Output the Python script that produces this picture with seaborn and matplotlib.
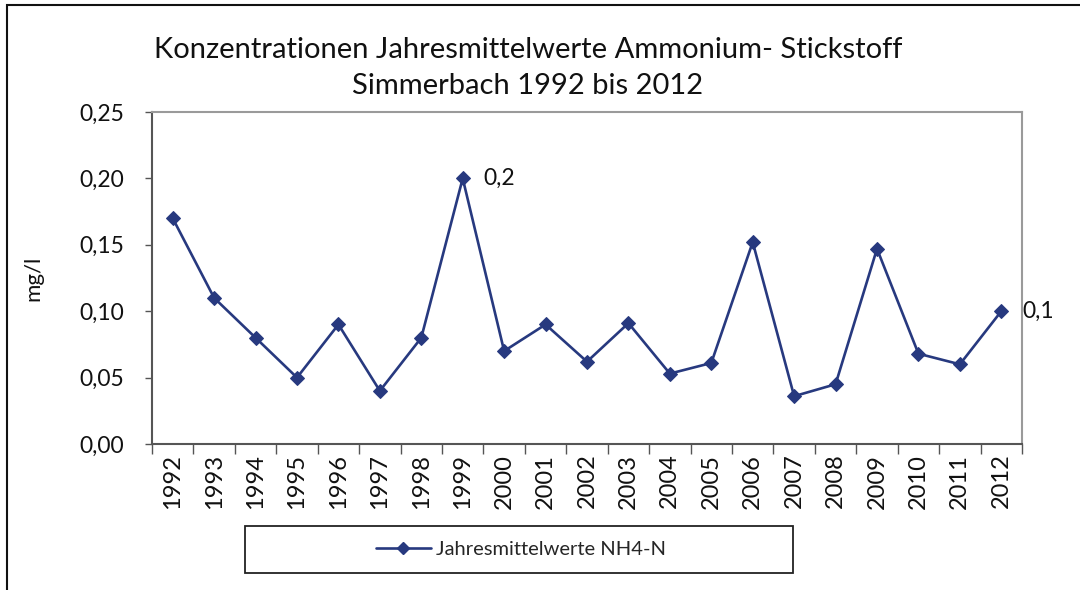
import matplotlib
matplotlib.use("Agg")
import matplotlib.pyplot as plt
import seaborn as sns
import pandas as pd
from matplotlib.patches import Rectangle
from matplotlib.lines import Line2D
from matplotlib.ticker import FixedLocator, FuncFormatter

years = [str(y) for y in range(1992, 2013)]
values = [0.170, 0.110, 0.080, 0.050, 0.090, 0.040, 0.080, 0.200, 0.070, 0.090,
          0.062, 0.091, 0.053, 0.061, 0.152, 0.036, 0.045, 0.147, 0.068, 0.060, 0.100]
series_name = "Jahresmittelwerte NH4-N"
title = "Konzentrationen Jahresmittelwerte Ammonium- Stickstoff\nSimmerbach 1992 bis 2012"
ylabel = "mg/l"
yticks = [0.00, 0.05, 0.10, 0.15, 0.20, 0.25]
labels = {7: "0,2", 20: "0,1"}

sns.set_theme(style="white")
plt.rcParams['font.family'] = ['Lato', 'DejaVu Sans']

color = "#27397F"
df = pd.DataFrame({"pos": range(len(years)), "value": values})

fig = plt.figure(figsize=(10.8, 5.9), dpi=100)
ax = fig.add_axes([152/1080, 1-444/590, (1022-152)/1080, (444-112)/590])

sns.lineplot(data=df, x="pos", y="value", ax=ax, color=color, linewidth=1.9,
             marker="D", markersize=7.5, markeredgecolor=color, markerfacecolor=color,
             legend=False)

ax.set_xlim(-0.5, len(years) - 0.5)
ax.set_ylim(0, 0.25)
ax.set_yticks(yticks)
ax.yaxis.set_major_formatter(FuncFormatter(lambda v, p: f"{v:.2f}".replace(".", ",")))
ax.tick_params(axis="y", which="major", direction="out", length=5, width=1,
               color="#555555", labelsize=16.5, pad=15, left=True, labelcolor="#111111")

ax.xaxis.set_major_locator(FixedLocator([i - 0.5 for i in range(len(years) + 1)]))
ax.xaxis.set_minor_locator(FixedLocator(list(range(len(years)))))
ax.set_xticklabels([], minor=False)
ax.set_xticklabels(years, minor=True, rotation=90)
ax.tick_params(axis="x", which="major", direction="out", length=7, width=1,
               color="#555555", bottom=True, labelbottom=False)
ax.tick_params(axis="x", which="minor", length=0, labelsize=17, pad=7, bottom=True,
               labelcolor="#111111")

ax.set_xlabel("")
ax.set_ylabel(ylabel, fontsize=16, labelpad=26, color="#111111")
for s in ["left", "bottom"]:
    ax.spines[s].set_color("#555555")
    ax.spines[s].set_linewidth(1.5)
for s in ["top", "right"]:
    ax.spines[s].set_color("#9a9a9a")
    ax.spines[s].set_linewidth(1.5)

for i, txt in labels.items():
    ax.annotate(txt, (i, values[i]), xytext=(15, 0), textcoords="offset points",
                va="center", ha="left", fontsize=16.5, color="#111111")

fig.text(528/1080, 1-68/590, title, ha="center", va="center", fontsize=21,
         linespacing=1.5, color="#111111")

# outer chart border
fig.add_artist(Rectangle((7/1080, -0.05), 1.1, 1 - 5/590 + 0.05, transform=fig.transFigure,
                         fill=False, edgecolor="#111111", linewidth=1.5))

# legend box
fig.add_artist(Rectangle((245/1080, 1-573/590), (793-245)/1080, (573-526)/590,
                         transform=fig.transFigure, fill=False, edgecolor="#222222",
                         linewidth=1.3))
handle = Line2D([0], [0], color=color, linewidth=1.9, marker="D", markersize=6.5,
                markerfacecolor=color, markeredgecolor=color)
fig.legend([handle], [series_name], loc="center", bbox_to_anchor=(521/1080, 1-549.5/590),
           frameon=False, fontsize=14.5, handlelength=2.7, handletextpad=0.25)

fig.savefig("out.png", dpi=100, facecolor="white")
